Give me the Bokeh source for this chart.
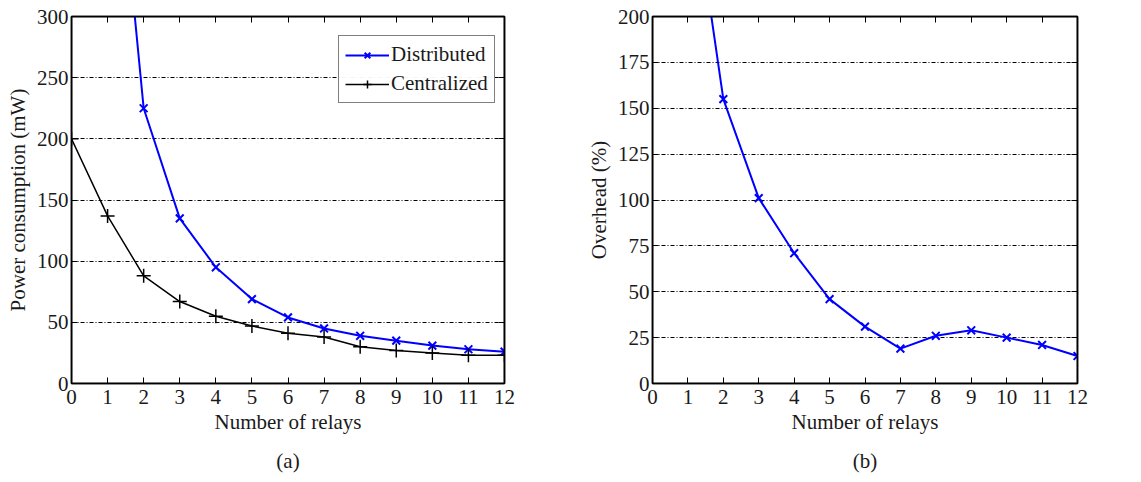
from bokeh.plotting import figure
from bokeh.layouts import row
from bokeh.models import (Range1d, LinearAxis, FixedTicker, Legend, LegendItem,
                          Title, BoxAnnotation)
from bokeh.embed import file_html
from bokeh.resources import INLINE

# ---- data ----
relays_dist = [1, 2, 3, 4, 5, 6, 7, 8, 9, 10, 11, 12]
power_dist = [530, 225, 135, 95, 69, 54, 45, 39, 35, 31, 28, 26]
relays_cent = [0, 1, 2, 3, 4, 5, 6, 7, 8, 9, 10, 11, 12]
power_cent = [200, 137, 88, 67, 55, 47, 41, 38, 30, 27, 25, 23, 23]
relays_ovh = [1, 2, 3, 4, 5, 6, 7, 8, 9, 10, 11, 12]
overhead = [288, 155, 101, 71, 46, 31, 19, 26, 29, 25, 21, 15]

x_ticks = list(range(0, 13))
y_ticks_a = [0, 50, 100, 150, 200, 250, 300]
y_ticks_b = [0, 25, 50, 75, 100, 125, 150, 175, 200]

FONT = "Liberation Serif"
BLUE = "#0000ff"
TXT = "#1a1a1a"
FS = "21px"


def style(p, yticks, ylabel):
    p.x_range = Range1d(0, 12)
    p.y_range = Range1d(0, yticks[-1])
    p.xaxis.ticker = FixedTicker(ticks=x_ticks)
    p.yaxis.ticker = FixedTicker(ticks=yticks)
    p.xaxis.axis_label = "Number of relays"
    p.yaxis.axis_label = ylabel
    for ax in (p.xaxis, p.yaxis):
        ax.major_tick_in = 6
        ax.major_tick_out = 0
        ax.minor_tick_line_color = None
        ax.axis_line_color = "black"
        ax.axis_line_width = 1.5
        ax.major_tick_line_color = "black"
        ax.major_label_text_font = FONT
        ax.major_label_text_font_size = FS
        ax.major_label_text_color = TXT
        ax.axis_label_text_font = FONT
        ax.axis_label_text_font_size = FS
        ax.axis_label_text_font_style = "normal"
        ax.axis_label_text_color = TXT
    p.xaxis.major_label_standoff = 6
    p.xaxis.axis_label_standoff = 3
    p.yaxis.major_label_standoff = 3
    p.yaxis.axis_label_standoff = 4
    p.xgrid.grid_line_color = None
    p.ygrid.grid_line_color = "black"
    p.ygrid.grid_line_dash = "4 2 1 2"
    p.ygrid.grid_line_width = 1
    p.ygrid.ticker = FixedTicker(ticks=yticks)
    p.outline_line_color = "black"
    p.outline_line_width = 1.5
    # frame box drawn as an overlay annotation covering the whole frame
    p.add_layout(BoxAnnotation(fill_color=None, fill_alpha=0, level="overlay",
                               line_color="black", line_width=2))
    top = LinearAxis(ticker=FixedTicker(ticks=x_ticks),
                     major_tick_in=6, major_tick_out=0,
                     major_label_text_alpha=0, major_label_standoff=0,
                     major_label_text_font_size="1px",
                     minor_tick_line_color=None, axis_line_color="black",
                     axis_line_width=1.5)
    right = LinearAxis(ticker=FixedTicker(ticks=yticks),
                       major_tick_in=6, major_tick_out=0,
                       major_label_text_alpha=0, major_label_standoff=0,
                       major_label_text_font_size="1px",
                       minor_tick_line_color=None, axis_line_color="black",
                       axis_line_width=1.5)
    p.add_layout(top, "above")
    p.add_layout(right, "right")


def caption(p, text):
    t = Title(text=text, align="center", text_font=FONT, text_font_size=FS,
              text_font_style="normal", text_color=TXT, standoff=20)
    p.add_layout(t, "below")


# ---- panel (a) ----
pa = figure(width=570, height=482, output_backend="svg", toolbar_location=None,
            min_border_left=71, min_border_right=66, min_border_top=16,
            min_border_bottom=0)
style(pa, y_ticks_a, "Power consumption (mW)")
ld = pa.line(relays_dist, power_dist, line_color=BLUE, line_width=2)
sd = pa.scatter(relays_dist, power_dist, marker="x", size=11, line_color=BLUE,
                line_width=2)
lc = pa.line(relays_cent, power_cent, line_color="black", line_width=1.5)
sc = pa.scatter(relays_cent, power_cent, marker="cross", size=14,
                line_color="black", line_width=1.5)
legend = Legend(items=[LegendItem(label="Distributed", renderers=[ld, sd]),
                       LegendItem(label="Centralized", renderers=[lc, sc])],
                location=(267, 280))
legend.label_text_font = FONT
legend.label_text_font_size = FS
legend.label_text_color = TXT
legend.border_line_color = "black"
legend.border_line_width = 1.5
legend.glyph_width = 44
legend.spacing = 4
legend.padding = 6
legend.margin = 0
legend.label_standoff = 2
pa.add_layout(legend)
caption(pa, "(a)")

# ---- panel (b) ----
pb = figure(width=571, height=482, output_backend="svg", toolbar_location=None,
            min_border_left=82, min_border_right=64, min_border_top=16,
            min_border_bottom=0)
style(pb, y_ticks_b, "Overhead (%)")
pb.line(relays_ovh, overhead, line_color=BLUE, line_width=2)
pb.scatter(relays_ovh, overhead, marker="x", size=11, line_color=BLUE,
           line_width=2)
caption(pb, "(b)")

layout = row(pa, pb)
open("out.html", "w").write(file_html(layout, INLINE))
